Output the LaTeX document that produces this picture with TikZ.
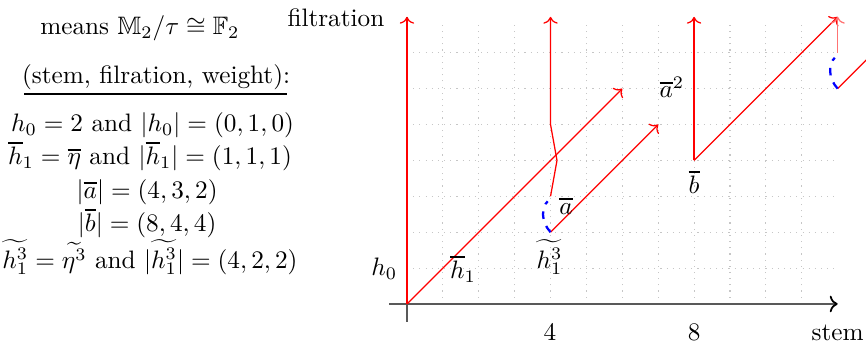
\documentclass[tikz,border=0pt]{standalone}
\usepackage{amsmath,amssymb}
\usetikzlibrary{arrows.meta}
\newcommand{\obar}[1]{{\vbox{\hrule height 0.8pt\kern 1.2pt\hbox{$#1$}}}}
\begin{document}
\begin{tikzpicture}[x=0.5cm,y=0.5cm,
  redline/.style={red, line width=0.5pt},
  redarrow/.style={red, line width=0.5pt, ->},
  fadearrow/.style={red!55, line width=0.5pt, ->},
  hiddenext/.style={blue, dashed, line width=0.9pt},
  axisline/.style={black!65, line width=0.7pt},
  lab/.style={inner sep=0pt, anchor=base},
]
\useasboundingbox (-11.34,-1.2) rectangle (12.79,8.47);
% grid
\draw[gray!45, dotted, line width=0.45pt, step=0.5cm] (0,0) grid (11.9,7.8);
% axes
\coordinate (xs) at (-0.5,0);
\coordinate (xe) at (12,0);
\coordinate (ys) at (0,-0.5);
\coordinate (ye) at (0,8);
\draw[axisline, -{To[color=black]}] (xs) -- (xe);
\draw[axisline] (ys) -- (ye);
% points
\coordinate (O) at (0,0);
\coordinate (T0) at (0,8);
\coordinate (D1) at (6,6);
\coordinate (H13) at (4,2);
\coordinate (D2) at (7,5);
\coordinate (A) at (4,3);
\coordinate (K1) at (4.18,4);
\coordinate (K2) at (4,5);
\coordinate (T4) at (4,8);
\coordinate (AE) at (3.92,2.86);
\coordinate (B) at (8,4);
\coordinate (T8) at (8,8);
\coordinate (T12) at (12,8);
\coordinate (C6) at (12,6);
\coordinate (C7) at (12,7);
\coordinate (CE) at (11.92,6.86);
\coordinate (C8) at (13,7);
% red towers
\draw[redarrow] (O) -- (T0);
\draw[redarrow] (O) -- (D1);
\draw[redarrow] (H13) -- (D2);
\draw[redarrow] (A) -- (K1) -- (K2) -- (T4);
\draw[redarrow] (B) -- (T8);
\draw[redarrow] (B) -- (T12);
\draw[fadearrow] (C7) -- (T12);
\begin{scope}
\clip (-11.34,-1.2) rectangle (12.79,8.47);
\draw[redline] (C6) -- (C8);
\end{scope}
% hidden extensions
\draw[hiddenext] (H13) .. controls (3.72,2.3) and (3.75,2.7) .. (AE);
\draw[hiddenext] (C6) .. controls (11.72,6.3) and (11.75,6.7) .. (CE);
% axis labels
\node[lab] (filt) at (-1.98,7.72) {filtration};
\node[lab] (stem) at (12.0,-1.03) {stem};
\node[lab] (four) at (3.98,-1.03) {4};
\node[lab] (eight) at (8,-1.03) {8};
% element labels
\node[lab] (lh0) at (-0.63,0.78) {$h_0$};
\node[lab] (lh1) at (1.56,0.7) {$\obar{h}_1$};
\node[lab] (lh13) at (3.97,1.0) {$\widetilde{h_1^3}$};
\node[lab] (la) at (4.43,2.5) {$\obar{a}$};
\node[lab] (la2) at (7.38,5.74) {$\obar{a}^2$};
\node[lab] (lb) at (8.0,3.09) {$\obar{b}$};
% legend text
\node[lab] (means) at (-7.44,7.51) {means $\mathbb{M}_2/\tau \cong \mathbb{F}_2$};
\node[lab] (swf) at (-6.99,6.13) {(stem, filration, weight):};
\coordinate (ul1) at (-10.67,5.84);
\coordinate (ul2) at (-3.34,5.84);
\draw[line width=0.7pt] (ul1) -- (ul2);
\node[lab] (r1) at (-7.09,4.8) {$h_0 = 2$ and $|h_0| = (0,1,0)$};
\node[lab] (r2) at (-7.16,3.88) {$\obar{h}_1 = \obar{\eta}$ and $|\obar{h}_1| = (1,1,1)$};
\node[lab] (r3) at (-7.24,2.95) {$|\obar{a}| = (4,3,2)$};
\node[lab] (r4) at (-7.24,2.03) {$|\obar{b}| = (8,4,4)$};
\node[lab] (r5) at (-7.16,1.0) {$\widetilde{h_1^3} = \widetilde{\eta^3}$ and $|\widetilde{h_1^3}| = (4,2,2)$};
\end{tikzpicture}
\end{document}
